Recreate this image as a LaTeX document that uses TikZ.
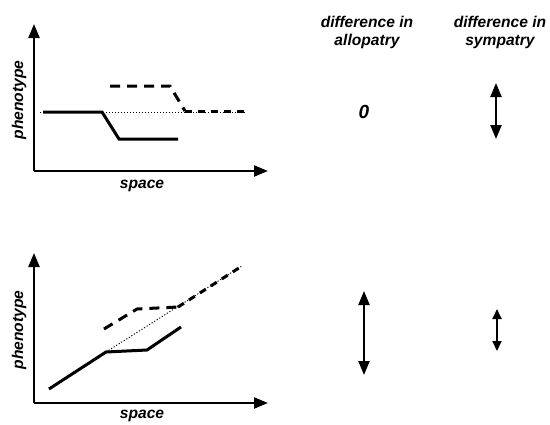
\documentclass[tikz,border=0pt]{standalone}
\usepackage{fontspec}
\setmainfont{Liberation Sans}
\usetikzlibrary{arrows.meta}
\begin{document}
\begin{tikzpicture}[x=1pt,y=-1pt,
  lab/.style={font=\fontsize{15.6}{18}\selectfont\bfseries\itshape, inner sep=0pt, align=center},
  big/.style={font=\fontsize{19}{22}\selectfont\bfseries\itshape, inner sep=0pt},
  axis/.style={line width=2.2pt, -{Triangle[width=11pt,length=14pt]}},
  solidl/.style={line width=3pt, line join=miter},
  dashl/.style={line width=3pt, dash pattern=on 10pt off 7pt},
  dashdotl/.style={line width=3pt, dash pattern=on 7pt off 6pt},
  dotl/.style={line width=0.9pt, dash pattern=on 1.2pt off 1.8pt},
  dbl/.style={line width=2.2pt, {Triangle[width=11pt,length=14pt]}-{Triangle[width=11pt,length=14pt]}},
  dbls/.style={line width=1.8pt, {Triangle[width=9pt,length=10pt]}-{Triangle[width=9pt,length=10pt]}}]
\useasboundingbox (0,0) rectangle (550,424);
% ---------- top panel ----------
\coordinate (o1) at (34,171);
\coordinate (y1) at (34,24);
\coordinate (x1) at (268,171);
\draw[axis] (o1) -- (y1);
\draw[axis] (o1) -- (x1);
\node[lab] (sp1) at (142,186) {space};
\node[lab, rotate=90] (ph1) at (19,100) {phenotype};
\coordinate (d1a) at (40,112);
\coordinate (d1b) at (245,112);
\draw[dotl] (d1a) -- (d1b);
\coordinate (s1a) at (43,112);
\coordinate (s1b) at (102,112);
\coordinate (s1c) at (119,139);
\coordinate (s1d) at (178,139);
\draw[solidl] (s1a) -- (s1b) -- (s1c) -- (s1d);
\coordinate (h1a) at (110,86);
\coordinate (h1b) at (170,86);
\coordinate (h1c) at (185,111);
\coordinate (h1d) at (245,111);
\draw[dashl] (h1a) -- (h1b) -- (h1c);
\draw[dashdotl] (h1c) -- (h1d);
% ---------- bottom panel ----------
\coordinate (o2) at (34,403);
\coordinate (y2) at (34,253);
\coordinate (x2) at (268,403);
\draw[axis] (o2) -- (y2);
\draw[axis] (o2) -- (x2);
\node[lab] (sp2) at (142,416) {space};
\node[lab, rotate=90] (ph2) at (19,330) {phenotype};
\coordinate (s2a) at (49,389);
\coordinate (s2b) at (106,352);
\coordinate (s2c) at (147,350);
\coordinate (s2d) at (181,327);
\coordinate (d2b) at (242,266);
\draw[dotl] (s2b) -- (d2b);
\draw[solidl] (s2a) -- (s2b) -- (s2c) -- (s2d);
\coordinate (h2a) at (104,329);
\coordinate (h2b) at (137,309);
\coordinate (h2c) at (178,307);
\draw[dashl] (h2a) -- (h2b) -- (h2c);
\draw[dashdotl] (h2c) -- (d2b);
% ---------- right columns ----------
\node[lab] (allo) at (367,32) {difference in\\allopatry};
\node[lab] (symp) at (500,32) {difference in\\sympatry};
\node[big] (zero) at (364,112) {0};
\coordinate (a1t) at (496,83);
\coordinate (a1b) at (496,139);
\draw[dbl] (a1t) -- (a1b);
\coordinate (a2t) at (364,291);
\coordinate (a2b) at (364,375);
\draw[dbl] (a2t) -- (a2b);
\coordinate (a3t) at (497,309);
\coordinate (a3b) at (497,351);
\draw[dbls] (a3t) -- (a3b);
\end{tikzpicture}
\end{document}
